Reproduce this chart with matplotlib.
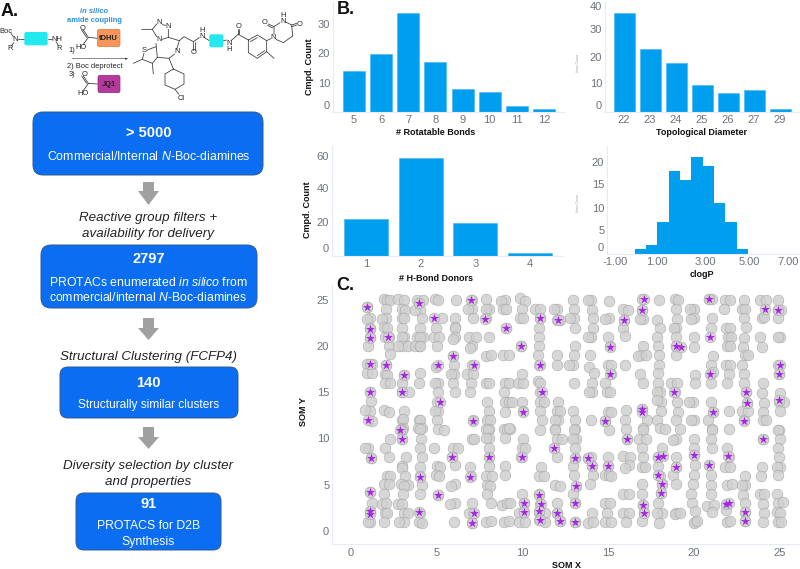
import matplotlib
matplotlib.use("Agg")
import matplotlib.pyplot as plt
from matplotlib.patches import FancyBboxPatch, Polygon

plt.rcParams['font.family'] = ['Liberation Sans', 'DejaVu Sans']
plt.rcParams['mathtext.fontset'] = 'custom'
plt.rcParams['mathtext.rm'] = 'Liberation Sans'
plt.rcParams['mathtext.it'] = 'Liberation Sans:italic'
plt.rcParams['mathtext.bf'] = 'Liberation Sans:bold'

# ---------- bar chart data ----------
rot_labels = ['5', '6', '7', '8', '9', '10', '11', '12']
rot_counts = [14, 20, 34, 17, 8, 7, 2, 1]
rot_ytick_pos = [2.4, 9.9, 20.2, 30.1]
rot_ytick_lab = ['0', '10', '20', '30']

diam_labels = ['22', '23', '24', '25', '26', '27', '29']
diam_counts = [36, 23, 18, 10, 7, 8, 1]
diam_ytick_pos = [2.5, 10.5, 20, 30.2, 38.5]
diam_ytick_lab = ['0', '10', '20', '30', '40']

hbd_labels = ['1', '2', '3', '4']
hbd_counts = [22, 59, 20, 2]
hbd_ytick_pos = [4.8, 20.5, 41, 60]
hbd_ytick_lab = ['0', '20', '40', '60']

clogp_edges = [0, .5, 1, 1.5, 2, 2.5, 3, 3.5, 4, 4.5, 5]
clogp_counts = [1, 2, 7, 18, 16, 21, 19, 11, 7, 1]
clogp_xtick_pos = [-.87, 1.0, 3.1, 5.05, 6.75]
clogp_xtick_lab = ['-1.00', '1.00', '3.00', '5.00', '7.00']
clogp_ytick_pos = [1.5, 5.2, 10, 15.2, 19.9]
clogp_ytick_lab = ['0', '5', '10', '15', '20']

# ---------- SOM data, grey points by column ----------
g01 = [(.92,24.25),(1.08,23),(.96,22.9),(1.08,21.9),(1.08,21),(1.02,20),(.96,18.05),(1.2,18.05),(.92,17.05),(1.2,17.05),(1.08,15.05),(1.15,14.1),(1.08,13),(.82,13.1),(1.2,11.9),(1.02,8.95),(.82,9),(1.17,7.9),(1.13,4.2),(1.2,3),(1.08,2.1),(1.08,1),(1.02,1)]
g02 = [(1.9,25.1),(2.1,25),(2.3,25),(2.05,24),(2.05,23),(1.8,22.9),(1.95,22.1),(2.1,22),(2.2,21),(2,21),(2.2,19.95),(2.25,19.15),(2.05,17.95),(2,16.95),(2.1,16.85),(2,16),(2.3,16),(1.95,13.1),(2.2,12.9),(2.3,9.9),(2,9),(2.2,8),(2.1,6),(2.3,6),(1.95,5.05),(2.2,5.05),(1.95,4),(1.8,2.9),(2.05,3),(2,1.9),(2.1,1.9),(1.95,.95)]
g03 = [(2.75,25.1),(3.1,25),(2.95,24),(3.15,23.9),(2.95,23),(3.1,23),(2.95,22),(3.1,21),(2.95,21),(2.95,20),(2.75,20),(3.3,20),(3.1,16.9),(2.95,16),(3,15.05),(3.4,15),(3.1,13),(3,12),(3.05,12.1),(3.05,11.1),(2.9,11),(3,10.9),(3,10),(3.2,8),(3,7.05),(2.95,6.85),(3.15,6),(2.9,5.05),(3.3,5),(3.1,4.9),(3.05,4),(2.75,2.95),(3,2.95),(3.1,2),(3.3,2),(3.1,1),(2.8,.95)]
g04 = [(3.85,25),(4.2,25),(4.05,23.9),(3.75,23.9),(4.15,23),(4,22),(3.85,21),(4.2,21),(4.05,21),(3.95,20),(3.75,20),(4.05,20),(4.05,17.05),(3.95,16),(3.95,12),(4.05,12),(4.15,11.1),(3.9,11.1),(4.05,11),(4.1,10),(4.05,8.95),(4.15,8.05),(4.05,6.95),(4.05,5.9),(4.15,5),(4,4),(4,2),(3.95,1),(4.15,.85)]
g05 = [(4.9,25.1),(5.1,25),(5.3,23),(4.95,22),(4.85,21),(5.15,21),(5,20),(4.95,17.75),(5.05,16),(4.9,16),(5.05,15),(5,14),(5.05,13),(4.9,13),(5,12),(5.05,11),(5.4,10.9),(4.85,9),(5,7.05),(5.2,6.95),(4.95,6.05),(5.15,6),(5.05,3.9)]
g06 = [(6.15,25),(6.05,23),(6.1,22.1),(6.05,22),(6.05,21),(5.95,20.8),(5.95,18.9),(6,18),(6,17),(5.85,16.95),(5.95,16),(6.1,15),(5.95,9),(6.25,9),(5.9,8),(6.1,7.15),(6.05,5.05),(5.85,4.9),(6.05,3),(5.8,2.9),(6,.95)]
g07 = [(7.05,24.95),(7.05,24),(6.85,24),(7.1,23),(6.9,21),(7.3,21),(7.05,20),(6.95,19.8),(7.05,18),(6.8,17),(7.15,17),(7,16),(6.95,15),(7.15,11.95),(7.05,10),(7.2,10),(6.95,6.95),(7,5.9),(7.05,3),(7.15,2),(6.9,2),(7.05,.9)]
g08 = [(7.9,25.1),(8.05,24.05),(7.9,24),(7.9,23),(8.05,21),(7.9,18.95),(8.2,19),(7.9,16.05),(8.05,16.05),(7.95,14),(8.05,13),(7.95,12),(8.1,12),(8.05,11),(7.9,11),(8,10.95),(8.05,10.05),(7.9,10.05),(8.05,8.95),(8.05,8),(8.05,7),(7.9,6),(8.25,6),(7.95,5),(8.1,4.9),(7.95,4),(8.2,3),(7.9,.95),(8.2,1.05)]
g09 = [(9,25),(8.75,24.9),(8.9,24),(9.05,24),(9.05,21.9),(8.9,19),(9.2,19),(9,16),(9.2,16),(8.95,15),(9,14),(9.2,14),(9.4,14),(9,12.9),(8.95,11),(9.1,11),(9.3,11),(9.2,11.1),(9,10.1),(9,7.05),(9,6.05),(8.8,2.8),(9.1,3.05),(9.3,3),(8.95,1),(9.2,1.05)]
g10 = [(9.85,25.15),(10.15,24.85),(10,24),(9.85,23),(10.05,23.05),(9.95,20),(9.75,16),(10.05,16),(10,16.95),(10,14),(10.05,12.95),(10.05,9.9),(10,9),(10.15,8.95),(9.95,8),(10,4),(10.1,3),(9.8,2),(10.1,2.1),(9.8,1),(10.15,1)]
g11 = [(10.75,24),(11.05,24),(11.05,23),(10.95,22),(11,21),(11,20),(10.9,19),(11,18),(10.9,16.2),(11.05,16),(11.05,15),(11.05,14),(11.25,14),(11.05,13),(11.15,12),(11.05,10.9),(11.1,6.95),(11,6),(11.25,6),(10.95,3.95),(11.05,2.95),(11,2.1),(11.3,2),(11,1.2),(11.3,.95)]
g12 = [(12,24),(11.85,24),(12.05,22.8),(12.2,22.8),(12.05,19),(12,18),(12.1,14),(12,13),(12.2,13),(12.1,12),(11.9,12),(11.9,11),(11.9,10.9),(12,10),(12.3,10),(11.85,9),(12,8),(11.9,5),(12.2,4.9),(12,3),(12,2),(12.2,1.1)]
g13 = [(12.95,25),(13,24),(13,23),(12.8,23),(13.1,22),(13.1,20),(13,19),(12.95,18),(12.75,18),(13,16),(12.95,13),(13.1,12),(13.05,11),(13,10.95),(13.15,9.95),(12.95,10),(13.1,8.95),(13.1,7.9),(12.95,7),(13,6.05),(13.15,4.85),(12.95,4),(13.05,3),(13.1,.95)]
g14 = [(14,25),(13.85,25),(14.05,23.9),(14.1,23),(14.1,22),(14,21),(13.85,21),(13.95,19),(13.9,17.75),(14.2,17.05),(14.05,16),(14.05,15),(13.9,15),(14,12),(14,8),(13.85,7.85),(14.05,7),(14.15,6.05),(13.95,5.05),(14.05,1.9),(13.85,.85),(14.15,.95)]
g15 = [(15.05,24.85),(15.05,23),(14.85,22.9),(15,21),(15.1,19.95),(15,18),(15.2,18),(15.15,16.95),(14.85,16),(14.95,15),(15.1,15),(15,12.9),(15.2,12.9),(14.85,11.9),(15.05,10.9),(15,8),(15,7.05),(14.85,6.05),(15.05,6.05),(15.2,6),(14.85,3),(15.1,3),(14.95,2),(14.85,1),(15.15,1)]
g16 = [(15.9,24),(16.15,23.9),(15.95,22.8),(15.9,22),(16,21.1),(16,18),(16.05,13.1),(16,12),(16.05,11),(16.1,10),(15.85,8.15),(16.3,8.05),(16.2,7.15),(16,6.8),(15.9,4.05),(16.2,4.05),(15.9,2),(16.2,1.9),(16.05,1)]
g17 = [(17,25.1),(17,23.9),(17.05,22.9),(16.85,22.9),(17.05,19.95),(16.95,19),(16.75,18.95),(17.2,19),(16.85,16.95),(17.05,15.95),(17,13.2),(17.3,12),(17.05,11.1),(17.05,10.95),(16.8,10),(17.2,10),(17,9),(17.05,8),(17,6.95),(17.15,6.95),(17,5.05),(17,4),(17.05,2.8),(17.1,1.9),(17,1.1)]
g18 = [(18,25),(17.85,22.8),(18.05,22),(17.85,20.95),(17.95,20),(18,19),(18,18),(17.95,17.05),(17.95,16.05),(18.05,15),(17.85,15),(18.1,14),(17.85,14.15),(18.1,13),(17.85,12),(18.05,11.1),(18.35,11),(18.15,8.95),(17.9,8),(17.9,7),(18.05,6),(18.15,5.05),(18.1,4.15),(17.95,3.05),(18.15,2),(17.85,1.9),(18,.9)]
g19 = [(18.9,25.1),(19.1,25),(19,24),(19.05,22.9),(19,21.9),(18.85,21.9),(19,21),(18.95,20),(18.95,19),(18.7,16.05),(19.05,16.05),(18.9,15),(19.05,14),(19.1,12.85),(19,12),(19.2,11),(19,9.95),(18.8,9.85),(18.95,8),(18.95,6.9),(18.8,6.05),(19,5.05),(19,2),(18.9,1.8),(19.2,2)]
g20 = [(20,24.05),(19.8,24),(20,23),(19.85,22.9),(20.05,20.95),(20,19.85),(20.1,16.85),(20.1,16),(19.95,14),(19.75,14),(20,12),(19.85,12),(20,10),(20,9),(20,8.25),(20.1,7.15),(20,6.05),(19.95,5.05),(19.85,4),(19.9,3),(20.1,2.15),(20.1,1),(20,.85),(20.2,1.05)]
g21 = [(20.9,25.1),(21.1,25.05),(21.05,23),(21,22),(21.15,18.95),(21,18),(21,17),(21.15,17.15),(21,16),(21,14),(21.15,12.9),(20.85,12),(21.05,11),(21.1,10.95),(21,10),(21.05,8.95),(20.9,7.15),(21,6.05),(21,5),(21,4),(20.8,2.75),(21.2,2.8),(21.1,2.1)]
g22 = [(21.85,25),(22.1,25),(21.8,24),(21.9,22),(22.15,22),(22,21),(22.2,21),(21.95,20),(22.1,20),(21.9,18),(22.15,18),(22.05,16.95),(21.95,16),(22.05,13),(22.05,11),(21.95,9),(22.05,8.05),(21.85,6.95),(22.15,6.95),(21.95,5),(22.25,5.05),(21.9,2.25),(21.95,1),(22.15,1.05)]
g23 = [(22.95,25),(22.8,24),(23,24),(22.95,23),(23.05,22.1),(22.95,20.85),(22.9,19.85),(23,19),(23.2,19),(22.85,18),(22.95,16.95),(22.95,16),(23.05,15),(23.1,13.85),(22.8,13),(22.95,11.95),(23.2,13),(23,5.95),(23,5),(22.9,3.9),(23,3),(23,2.05),(23,1.05),(22.8,5)]
g24 = [(23.85,25),(24.2,25),(24,23),(24.1,23.15),(23.9,21),(24,19.9),(24.05,16.05),(24,14.9),(24.1,13.8),(24.05,12.9),(24.05,11.95),(24.2,11.95),(24.05,9.9),(24,6.95),(23.95,6),(23.85,4),(24.1,4),(24.05,2.9),(24.1,1.9),(24.05,1)]
g25 = [(24.95,25),(24.9,23.9),(25.1,23.9),(24.95,23),(25.05,21),(24.9,21),(24.95,18),(25,17),(25.05,14.9),(25,14),(25.25,14),(25.05,13),(25,10.9),(24.95,10.9),(25.05,9.95),(24.9,9),(25,8),(25.05,6.95),(24.85,6.95),(24.95,6.05),(24.85,4.05),(24.95,3),(25.2,3.1),(24.85,2.1),(25.05,2),(24.95,1),(25.1,.95)]
grey_columns = [g01,g02,g03,g04,g05,g06,g07,g08,g09,g10,g11,g12,g13,g14,g15,g16,g17,g18,g19,g20,g21,g22,g23,g24,g25]

stars_top = [(.91,24.25),(3.97,24.65),(7.02,24.94),(4.82,23.06),(7.84,22.95),(11.03,23),(12.06,22.8),(9.05,21.9),(1.11,21.8),(1.11,20.9),(2.18,21),(9.94,20),(5.95,18.9),(1.09,18.1),(2.04,17.95),(5.08,18),(7.16,17.95),(11.01,18),(3.11,16.9),(1.09,15.06),(2.98,15.06),(11.15,15.06),(5.19,14),(10.06,12.9),(1.01,12),(7.14,11.9),(2.88,10.9)]
stars_right = [(17.08,25.08),(20.9,25.1),(24.18,24.04),(24.92,23.9),(17,23.9),(15.95,22.8),(20.97,21),(15.12,19.93),(18.95,20),(19.26,19.93),(25.04,17.9),(25,16.94),(15.14,16.94),(20.97,17),(18.87,15),(23.05,15),(23.1,13.84),(25,14.2),(16.97,13.2),(16.97,12.86),(21.15,12.9),(22.94,11.93),(14.85,11.9)]
stars_low = [(3,9.9),(11.85,9),(1.17,7.93),(5.91,7.96),(8.07,7.96),(9.96,7.96),(4.05,5.87),(6.97,5.87),(1.13,4.18),(5.06,3.89),(10.95,3.93),(10.08,3),(11.07,2.95),(1.09,2.16),(1.09,1.84),(3.99,2.02),(7.16,1.95),(10.1,2.09),(10.99,2.13),(12,2),(12.2,1.12),(11.01,1.19),(7.04,.9)]
stars_low_right = [(16.1,10),(24.03,9.9),(13.09,7.89),(13.85,7.86),(14.07,7),(15,7.06),(17.92,7.96),(18.2,8.1),(20,8.25),(22.02,8.07),(20.9,7.14),(18.95,6.92),(17.9,6.09),(13.13,4.83),(18.17,5.05),(18.11,4.14),(13.07,3.03),(17.04,2.81),(21.87,2.95),(22.08,3.06),(17.08,1.91),(23,2.05),(23,1.05),(13.1,.94)]
som_ticks = [0, 5, 10, 15, 20, 25]

# ---------- colours ----------
BAR = '#009EEE'
TICK = '#6e727c'
AXIS = '#e8ebf6'
BOX = '#0A6DF2'
BOXEDGE = '#33598f'
ARROW = '#a0a0a0'

fig = plt.figure(figsize=(8, 5.69), dpi=100)

# full-figure overlay in pixel coordinates for the schematic
ov = fig.add_axes([0, 0, 1, 1], zorder=0)
ov.set_xlim(0, 800)
ov.set_ylim(569, 0)
ov.axis('off')


def px_axes(l, t, r, b):
    ax = fig.add_axes([l / 800, 1 - b / 569, (r - l) / 800, (b - t) / 569], zorder=1)
    ax.patch.set_alpha(0)
    for s in ('top', 'right'):
        ax.spines[s].set_visible(False)
    for s in ('left', 'bottom'):
        ax.spines[s].set_color(AXIS)
        ax.spines[s].set_linewidth(.8)
    ax.tick_params(length=0, labelsize=8, labelcolor=TICK, pad=2)
    return ax


def labels(ax, xl, xpos, ypos_x, yl=None, ylx=None, yly=None):
    ax.set_xlabel(xl, fontsize=6.5, fontweight='bold', color='#111111', va='center', ha='center')
    ax.xaxis.set_label_coords(xpos, ypos_x, transform=ov.transData)
    if yl:
        ax.set_ylabel(yl, fontsize=6.5, fontweight='bold', color='#111111', va='center', ha='center')
        ax.yaxis.set_label_coords(ylx, yly, transform=ov.transData)


def catbars(box, cats, vals, x0, step, scale, ytpos, ytlab, width):
    l, t, r, b = box
    ax = px_axes(l, t, r, b)
    idx = list(range(len(cats)))
    ax.bar(idx, vals, width=width / step, color=BAR, edgecolor='#3db4f2', linewidth=.4)
    ax.set_xlim((l - x0) / step, (r - x0) / step)
    ax.set_ylim(0, (b - t) / scale)
    ax.set_xticks(idx, cats)
    ax.set_yticks(ytpos, ytlab)
    return ax


a1 = catbars((333, 2, 565, 112), rot_labels, rot_counts, 354, 27.15, 2.92, rot_ytick_pos, rot_ytick_lab, 22)
labels(a1, '# Rotatable Bonds', 436, 132, 'Cmpd. Count', 310, 67)
a2 = catbars((605, 2, 799, 112), diam_labels, diam_counts, 624, 26, 2.75, diam_ytick_pos, diam_ytick_lab, 21)
labels(a2, 'Topological Diameter', 702, 132)
a3 = catbars((332, 146, 563, 256), hbd_labels, hbd_counts, 366, 54.67, 1.66, hbd_ytick_pos, hbd_ytick_lab, 44)
labels(a3, '# H-Bond Donors', 436, 278, 'Cmpd. Count', 308, 210)

a4 = px_axes(607, 146, 799, 254)
a4.bar(clogp_edges[:-1], clogp_counts, width=.5, align='edge', color=BAR, linewidth=0)
a4.set_xlim(1 - (657.3 - 607) / 22.67, 1 + (799 - 657.3) / 22.67)
a4.set_ylim(0, 108 / 4.62)
a4.set_xticks(clogp_xtick_pos, clogp_xtick_lab)
a4.set_yticks(clogp_ytick_pos, clogp_ytick_lab)
labels(a4, 'clogP', 702, 274)

ov.text(578, 63, '#row Count', rotation=90, fontsize=2.5, color='#a0a0a0', ha='center', va='center')
ov.text(578, 203, '#row Count', rotation=90, fontsize=2.5, color='#a0a0a0', ha='center', va='center')

# SOM panel
a5 = px_axes(332, 285, 799, 544)
a5.set_xlim((332 - 351) / 17.13, (799 - 351) / 17.13)
a5.set_ylim((531 - 544) / 9.25, (531 - 285) / 9.25)
grey_x = [p[0] for col in grey_columns for p in col]
grey_y = [p[1] for col in grey_columns for p in col]
star_pts = stars_top + stars_right + stars_low + stars_low_right
star_x = [p[0] for p in star_pts]
star_y = [p[1] for p in star_pts]
a5.scatter(grey_x + star_x, grey_y + star_y, s=60, facecolor='#d0d0d0', edgecolor='#a2a2a2',
           linewidth=.4, alpha=.85, zorder=2)
a5.scatter(star_x, star_y, s=46, marker='*', color='#A628E2', linewidth=0, zorder=3)
a5.set_xticks(som_ticks)
a5.set_yticks(som_ticks)
a5.tick_params(axis='x', pad=3)
labels(a5, 'SOM X', 567, 565, 'SOM Y', 304, 412)

# panel letters
for s, x, y in (('A.', 1, 11), ('B.', 337, 10), ('C.', 336, 285)):
    fig.text(x / 800, 1 - y / 569, s, fontsize=13, fontweight='bold', color='#111111', va='center', ha='left', zorder=5)


# flowchart
def box(x0, y0, x1, y1, r=9):
    ov.add_patch(FancyBboxPatch((x0 + r, y0 + r), x1 - x0 - 2 * r, y1 - y0 - 2 * r,
                                boxstyle=f'round,pad={r},rounding_size={r}',
                                fc=BOX, ec=BOXEDGE, lw=.7, zorder=2))


def arrow(top, neck, tip, cx=148.5):
    ov.add_patch(Polygon([(cx - 5.5, top), (cx + 5.5, top), (cx + 5.5, neck), (cx + 10.5, neck),
                          (cx, tip), (cx - 10.5, neck), (cx - 5.5, neck)],
                         closed=True, fc=ARROW, ec='none', zorder=2))


def wt(y, s, bold=False, fs=9.0):
    ov.text(148.5, y, s, color='white', ha='center', va='center', fontsize=10.5 if bold else fs,
            fontweight='bold' if bold else 'normal', zorder=3)


def it(y, s):
    ov.text(148.5, y, s, color='#222222', ha='center', va='center', fontsize=9.6, style='italic', zorder=3)


box(33, 112, 263, 175, 10)
wt(133, '> 5000', True)
wt(156, r'Commercial/Internal $\mathit{N}$-Boc-diamines', fs=8.9)
arrow(182, 191, 205)
it(218, 'Reactive group filters +')
it(234, 'availability for delivery')
box(41, 245, 257, 308, 10)
wt(259, '2797', True)
wt(282, r'PROTACs enumerated $\mathit{in\ silico}$ from', fs=8.8)
wt(297, r'commercial/internal $\mathit{N}$-Boc-diamines', fs=8.8)
arrow(318, 328, 340)
it(357, 'Structural Clustering (FCFP4)')
box(60, 367, 238, 418, 8)
wt(383, '140', True)
wt(405, 'Structurally similar clusters', fs=8.6)
arrow(427, 437, 449)
it(466, 'Diversity selection by cluster')
it(482, 'and properties')
box(76, 493, 221, 550, 8)
wt(504, '91', True)
wt(526, 'PROTACS for D2B', fs=8.8)
wt(542, 'Synthesis', fs=8.8)


# reaction schematic (drawn in zoomed crop units, 3 per pixel)
def bonds(pts, lw=.55, c='#333333'):
    ov.plot([p[0] / 3 for p in pts], [p[1] / 3 for p in pts], color=c, lw=lw, solid_capstyle='round', zorder=2)


def atom(x, y, s, fs=5.4, **kw):
    ov.text(x / 3, y / 3, s, fontsize=fs, ha='center', va='center', color=kw.pop('color', '#222222'),
            zorder=4, **kw)


def cyan(x0, y0, x1, y1):
    ov.add_patch(FancyBboxPatch((x0 / 3 + 1.5, y0 / 3 + 1.5), (x1 - x0) / 3 - 3, (y1 - y0) / 3 - 3,
                                boxstyle='round,pad=1.5,rounding_size=2', fc='#22E9EE', ec='none', zorder=3))


def tag(x0, y0, x1, y1, c, e, s):
    ov.add_patch(FancyBboxPatch((x0 / 3 + 1.5, y0 / 3 + 1.5), (x1 - x0) / 3 - 3, (y1 - y0) / 3 - 3,
                                boxstyle='round,pad=1.5,rounding_size=2', fc=c, ec=e, lw=.5, zorder=3))
    atom((x0 + x1) / 2, (y0 + y1) / 2, s, fs=5.4, fontweight='bold')


atom(18, 93, 'Boc')
atom(46, 119, 'N')
atom(30, 145, 'R')
bonds([(33, 100), (40, 110)])
bonds([(42, 128), (33, 138)])
bonds([(55, 118), (73, 118)])
cyan(73, 96, 143, 136)
bonds([(143, 118), (155, 118)])
atom(170, 118, 'NH')
atom(178, 145, 'R')
bonds([(168, 125), (175, 136)])
atom(282, 35, 'in silico', fs=5.4, color='#2f8fd8', fontweight='bold', style='italic')
atom(282, 60, 'amide coupling', fs=5.4, color='#2f8fd8', fontweight='bold')
bonds([(293, 115), (265, 112), (250, 133)])
bonds([(265, 112), (250, 90)])
bonds([(260, 112), (245, 90)])
atom(248, 84, 'O')
atom(243, 141, 'HO')
tag(292, 88, 360, 140, '#F7955A', '#d87c3e', 'tDHU')
atom(215, 150, '1)')
ov.annotate('', xy=(392 / 3, 176 / 3), xytext=(208 / 3, 176 / 3),
            arrowprops=dict(arrowstyle='-|>', lw=.4, color='#333333', mutation_scale=3), zorder=2)
atom(285, 199, '2) Boc deprotect')
atom(216, 224, '3)')
bonds([(293, 252), (265, 250), (250, 272)])
bonds([(265, 250), (250, 228)])
bonds([(260, 250), (245, 228)])
atom(255, 224, 'O')
atom(248, 279, 'HO')
tag(294, 226, 360, 278, '#B8399E', '#8f2c7c', 'JQ1')

# molecule
bonds([(425, 88), (457, 88), (470, 72)])
bonds([(487, 74), (497, 76)])
bonds([(505, 88), (505, 112), (486, 118)])
bonds([(457, 88), (470, 110)])
atom(477, 68, 'N')
atom(503, 78, 'N')
atom(478, 118, 'N', fs=5)
bonds([(505, 112), (538, 122), (530, 148)])
bonds([(524, 162), (507, 175), (472, 172), (468, 130)])
bonds([(472, 172), (457, 190), (427, 178), (432, 160)])
bonds([(468, 140), (442, 150)])
atom(432, 150, 'S')
bonds([(427, 178), (400, 190)])
bonds([(457, 190), (460, 222)])
atom(530, 155, 'N')
bonds([(507, 175), (520, 207)])
bonds([(520, 207), (552, 222), (552, 252), (525, 268), (495, 255), (495, 222), (520, 207)])
bonds([(525, 268), (537, 283)])
atom(544, 294, 'Cl')
bonds([(538, 122), (552, 110), (580, 125)])
bonds([(580, 125), (580, 150)])
bonds([(585, 125), (585, 150)])
atom(582, 158, 'O')
bonds([(580, 125), (598, 113)])
atom(606, 100, 'H\nN', linespacing=.8)
bonds([(612, 112), (628, 122)])
cyan(628, 103, 670, 142)
bonds([(670, 122), (680, 120)])
atom(687, 139, 'N\nH', linespacing=.8)
bonds([(693, 122), (715, 103)])
bonds([(713, 103), (713, 88)])
bonds([(718, 103), (718, 88)])
atom(715, 80, 'O')
bonds([(715, 103), (745, 120)])
bonds([(745, 120), (772, 105), (800, 122), (800, 155), (772, 175), (745, 158), (745, 120)])
bonds([(751, 125), (772, 113)])
bonds([(794, 152), (772, 167)])
bonds([(800, 155), (822, 175)])
bonds([(800, 122), (812, 116)])
atom(820, 113, 'N')
bonds([(822, 103), (822, 80), (840, 68)])
bonds([(822, 80), (805, 72)])
bonds([(818, 84), (803, 76)])
atom(795, 68, 'O')
atom(848, 55, 'H\nN', linespacing=.8)
bonds([(857, 66), (875, 75), (878, 108), (850, 128), (828, 118)])
bonds([(875, 75), (890, 70)])
bonds([(875, 80), (890, 75)])
atom(898, 72, 'O')

fig.savefig('out.png', dpi=100)
